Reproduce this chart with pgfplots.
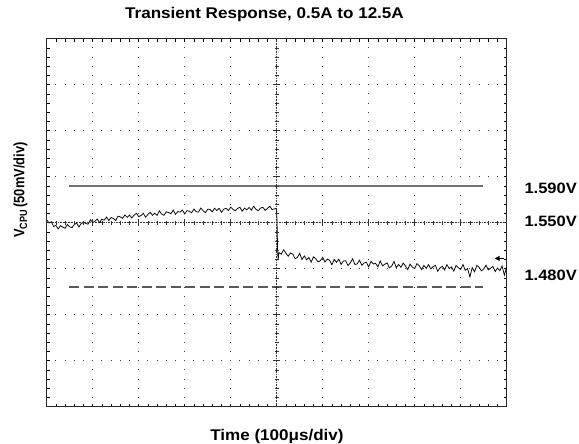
\documentclass[border=0pt]{standalone}
\usepackage{fontspec}
\setmainfont{Liberation Sans}
\newfontfamily\wide{Liberation Sans}[FakeStretch=1.1]
\newfontfamily\narrow{Liberation Sans}[FakeStretch=0.86]
\usepackage{pgfplots}
\pgfplotsset{compat=1.18}
\usetikzlibrary{arrows.meta}
\pgfplotstableread{
t v
-500 3.2
-495 -0.3
-490 1.1
-485 -4.0
-480 -3.1
-475 -6.8
-470 -3.3
-465 -4.8
-460 -6.1
-455 -1.9
-450 -4.5
-445 -5.4
-440 -2.1
-435 -0.3
-430 -4.7
-425 -0.9
-420 0.4
-415 -0.8
-410 -1.6
-405 3.3
-400 0
-395 1.8
-390 3.9
-385 0.1
-380 3.8
-375 2.7
-370 6.1
-365 2.3
-360 5.6
-355 4.6
-350 2.3
-345 7.1
-340 6.3
-335 4.8
-330 8.4
-325 5.8
-320 8.3
-315 5.1
-310 8.2
-305 10.2
-300 6.6
-295 7.8
-290 10.2
-285 6.0
-280 8.9
-275 11.3
-270 8.0
-265 10.3
-260 7.9
-255 12.9
-250 9.3
-245 8.0
-240 11.9
-235 11.0
-230 9.8
-225 13.7
-220 9.2
-215 12.0
-210 11.5
-205 13.7
-200 9.5
-195 13.1
-190 12.6
-185 10.8
-180 14.8
-175 11.9
-170 11.6
-165 15.9
-160 12.9
-155 10.9
-150 14.7
-145 14.4
-140 11.8
-135 15.8
-130 13.3
-125 15.6
-120 11.3
-115 14.7
-110 15.6
-105 13.3
-100 16.9
-95 14.4
-90 13.1
-85 15.4
-80 16.8
-75 12.5
-70 15.8
-65 14.0
-60 16.6
-55 13.6
-50 18.0
-45 14.5
-40 13.1
-35 16.0
-30 16.7
-25 13.4
-20 15.5
-15 17.9
-10 14.2
-5 15.0
-1 15.5
0 12.0
1 -5.0
2 -30.0
3 -41.0
4 -36.0
5 -32.6
10 -34.2
15 -29.4
20 -33.2
25 -36.5
30 -32.9
35 -34.2
40 -39.3
45 -37.7
50 -33.3
55 -40.0
60 -36.1
65 -40.3
70 -37.9
75 -42.8
80 -37.1
85 -39.3
90 -42.7
95 -41.1
100 -37.6
105 -42.7
110 -39.6
115 -40.9
120 -45.7
125 -39.8
130 -43.0
135 -39.6
140 -45.3
145 -41.7
150 -41.3
155 -46.5
160 -43.7
165 -39.3
170 -45.4
175 -44.8
180 -40.8
185 -46.2
190 -43.8
195 -42.9
200 -48.0
205 -42.0
210 -44.9
215 -44.2
220 -48.0
225 -41.5
230 -46.9
235 -45.1
240 -43.7
245 -49.1
250 -47.2
255 -42.0
260 -48.9
265 -45.4
270 -48.5
275 -43.8
280 -47.1
285 -50.9
290 -45.0
295 -48.3
300 -49.8
305 -44.4
310 -47.0
315 -51.0
320 -46.4
325 -49.6
330 -45.6
335 -50.2
340 -47.8
345 -46.4
350 -52.8
355 -49.1
360 -47.3
365 -51.4
370 -45.6
375 -49.8
380 -48.0
385 -52.6
390 -46.5
395 -48.9
400 -50.8
405 -45.5
410 -51.7
415 -49.9
420 -59.0
425 -48.8
430 -53.4
435 -46.5
440 -48.4
445 -52.4
450 -50.4
455 -46.2
460 -51.3
465 -49.5
470 -47.5
475 -53.1
480 -49.3
485 -52.1
490 -47.1
495 -57.0
500 -48.3
}\trace
\begin{document}
\begin{tikzpicture}[x=1pt,y=1pt]
\useasboundingbox (0,0) rectangle (579,444);
\begin{axis}[at={(46.7pt,37.3pt)}, anchor=south west, width=460pt, height=368pt, scale only axis,
 xmin=-500,xmax=500,ymin=-200,ymax=200,
 xtick={-500,-400,-300,-200,-100,0,100,200,300,400,500},
 ytick={-200,-150,-100,-50,0,50,100,150,200},
 minor x tick num=4, minor y tick num=4,
 xticklabels={}, yticklabels={},
 tick align=inside, major tick length=3pt, minor tick length=3pt,
 tick style={black, line width=0.5pt},
 grid=major,
 major grid style={black!75, line width=0.9pt, dash pattern=on 0.9pt off 8.3pt, dash phase=0.45pt},
 axis line style={line width=1.1pt, black!85},
 clip=false]
\addplot[black!55, line width=1.3pt] coordinates {(-451,40) (449,40)};
\addplot[black!65, line width=1.3pt, dash pattern=on 10pt off 4.5pt] coordinates {(-451,-70) (449,-70)};
\addplot[black, line width=0.75pt] table[x=t,y=v] {\trace};
\draw[-{Triangle[length=5pt,width=5pt]}, line width=1pt] (axis cs:494,-38.8) -- (axis cs:474,-38.8);
\end{axis}
\begin{axis}[at={(46.7pt,37.3pt)}, anchor=south west, width=460pt, height=368pt, scale only axis,
 xmin=-500,xmax=500,ymin=-200,ymax=200,
 axis lines=middle, axis line style={-, black!80, line width=0.6pt, densely dotted},
 xtick={-500,-400,-300,-200,-100,0,100,200,300,400,500},
 ytick={-200,-150,-100,-50,0,50,100,150,200},
 minor x tick num=4, minor y tick num=4,
 xticklabels={}, yticklabels={},
 tick align=center, major tick length=7pt, minor tick length=4pt,
 tick style={black!80, line width=0.5pt}]
\end{axis}
\node[font=\wide\bfseries\fontsize{15.5}{16}\selectfont, anchor=base] at (264.5,425) {Transient Response, 0.5A to 12.5A};
\node[font=\wide\bfseries\fontsize{15.5}{16}\selectfont, anchor=base] at (277,3.5) {Time (100μs/div)};
\node[font=\narrow\bfseries\fontsize{15}{16}\selectfont, rotate=90] at (20.5,254) {V\raisebox{-0.35ex}{\fontsize{10.5}{11}\selectfont CPU}\,(50mV/div)};
\node[font=\wide\bfseries\fontsize{15}{16}\selectfont, anchor=west] at (521,256) {1.590V};
\node[font=\wide\bfseries\fontsize{15}{16}\selectfont, anchor=west] at (521,222.3) {1.550V};
\node[font=\wide\bfseries\fontsize{15}{16}\selectfont, anchor=west] at (521,169) {1.480V};
\end{tikzpicture}
\end{document}
